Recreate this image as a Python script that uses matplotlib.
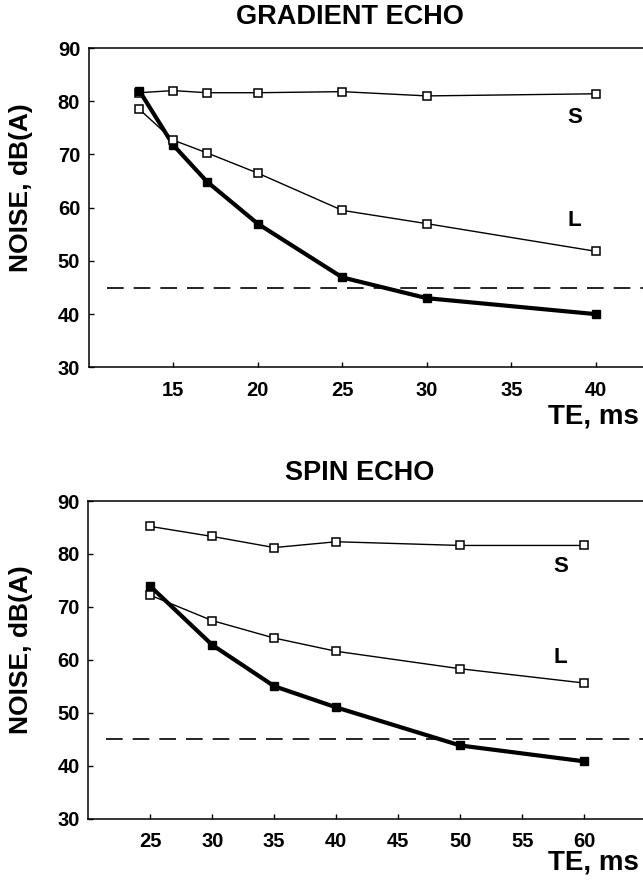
import matplotlib
matplotlib.use("Agg")
import matplotlib.pyplot as plt

plt.rcParams['font.family'] = ['Liberation Sans', 'DejaVu Sans']
plt.rcParams['font.weight'] = 'bold'

# Gradient echo
ge_te = [13, 15, 17, 20, 25, 30, 40]
ge_S = [81.6, 82.0, 81.6, 81.6, 81.8, 81.0, 81.4]
ge_L = [78.5, 72.7, 70.3, 66.5, 59.5, 57.0, 51.8]
ge_F = [82.0, 71.8, 64.9, 57.0, 46.9, 43.0, 40.0]
ge_xticks = [15, 20, 25, 30, 35, 40]

# Spin echo
se_te = [25, 30, 35, 40, 50, 60]
se_S = [85.2, 83.3, 81.2, 82.3, 81.6, 81.6]
se_L = [72.2, 67.4, 64.1, 61.6, 58.3, 55.6]
se_F = [73.9, 62.8, 55.0, 51.0, 43.8, 40.8]
se_xticks = [25, 30, 35, 40, 45, 50, 55, 60]

yticks = [30, 40, 50, 60, 70, 80, 90]
threshold = 45

W, H = 643, 884
fig = plt.figure(figsize=(W / 100, H / 100), dpi=100)

def px_axes(left, right, top, bottom):
    return fig.add_axes([left / W, 1 - bottom / H, (right - left) / W, (bottom - top) / H])

def style(ax, xlim, xticks):
    ax.set_xlim(*xlim)
    ax.set_ylim(30, 90)
    ax.set_xticks(xticks)
    ax.set_yticks(yticks)
    ax.spines['right'].set_visible(False)
    for s in ['left', 'top', 'bottom']:
        ax.spines[s].set_linewidth(1.1)
    ax.tick_params(axis='both', direction='in', length=3.5, width=1.0, labelsize=14.5)
    ax.tick_params(axis='x', pad=10)
    ax.tick_params(axis='y', pad=6)
    for lab in ax.get_xticklabels() + ax.get_yticklabels():
        lab.set_fontweight('bold')

def draw(ax, te, S, L, F, x0):
    ax.plot(te, S, color='black', lw=1.0, marker='s', ms=6, mfc='white', mec='black', mew=1.1, zorder=3)
    ax.plot(te, F, color='black', lw=3.0, marker='s', ms=6, mfc='black', mec='black', zorder=4)
    ax.plot(te, L, color='black', lw=1.0, marker='s', ms=6, mfc='white', mec='black', mew=1.1, zorder=5)
    line, = ax.plot([x0, 200], [threshold, threshold], color='black', lw=1.2, zorder=2)
    line.set_dashes([10, 6])

right_px = 680
ax1 = px_axes(88.5, right_px, 48, 367.4)
xmax1 = 10 + (right_px - 88.5) / 16.92
style(ax1, (10, xmax1), ge_xticks)
draw(ax1, ge_te, ge_S, ge_L, ge_F, 11.1)
ax1.text(38.75, 76.9, 'S', fontsize=16, fontweight='bold', ha='center', va='center')
ax1.text(38.7, 57.6, 'L', fontsize=16, fontweight='bold', ha='center', va='center')

ax2 = px_axes(88.2, right_px, 501, 818.5)
xmax2 = 20 + (right_px - 88.2) / 12.4
style(ax2, (20, xmax2), se_xticks)
draw(ax2, se_te, se_S, se_L, se_F, 21.4)
ax2.text(58.1, 77.6, 'S', fontsize=16, fontweight='bold', ha='center', va='center')
ax2.text(58.1, 60.4, 'L', fontsize=16, fontweight='bold', ha='center', va='center')

def ftext(x, y, s, **kw):
    fig.text(x / W, 1 - y / H, s, fontweight='bold', **kw)

ftext(350, 17, 'GRADIENT ECHO', fontsize=19.5, ha='center', va='center')
ftext(360, 473, 'SPIN ECHO', fontsize=19.5, ha='center', va='center')
ftext(639, 417, 'TE, ms', fontsize=20, ha='right', va='center')
ftext(639, 863, 'TE, ms', fontsize=20, ha='right', va='center')
ftext(21, 188, 'NOISE, dB(A)', fontsize=19, ha='center', va='center', rotation=90)
ftext(21, 650, 'NOISE, dB(A)', fontsize=19, ha='center', va='center', rotation=90)

fig.savefig('out.png', dpi=100)
